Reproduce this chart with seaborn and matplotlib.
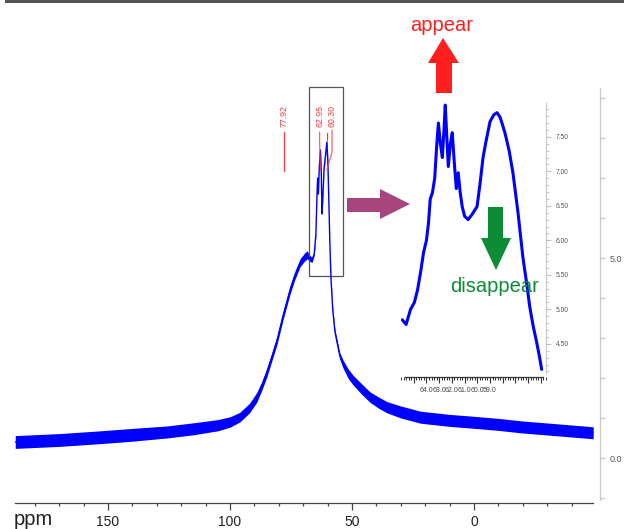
import numpy as np
import pandas as pd
import matplotlib
matplotlib.use("Agg")
import matplotlib.pyplot as plt
import seaborn as sns
from matplotlib.patches import Polygon, Rectangle
from matplotlib.ticker import FixedLocator, FuncFormatter, MultipleLocator

# ---------------- spectrum data ----------------
# full 13C spectrum: chemical shift (ppm), intensity and noise half-width
main_ppm = [188, 170, 153, 140, 126, 115, 105, 100, 96, 92, 89, 87, 85, 83,
            80.7, 78.3, 76.5, 75.4, 73.5, 71.3, 69.5, 68.4, 67.5, 66.4, 65.5,
            64.8, 64.4, 64.1, 63.8, 63.4, 62.95, 62.6, 62.3, 61.9, 61.5, 61.0,
            60.3, 59.9, 59.5, 59.1, 58.6, 57.9, 57.0, 55.0, 53.7, 51.5, 49.6,
            46.0, 42.6, 39.0, 35.7, 30.0, 22.0, 10.0, 1.6, -10, -19, -35, -48.8]
main_int = [0.40, 0.45, 0.52, 0.58, 0.65, 0.73, 0.82, 0.90, 1.02, 1.25, 1.52,
            1.80, 2.12, 2.50, 2.95, 3.55, 3.95, 4.20, 4.55, 4.88, 5.02, 5.08,
            5.00, 4.95, 5.10, 5.60, 6.50, 7.00, 6.60, 7.30, 7.70, 7.10, 6.10,
            6.60, 7.20, 7.50, 7.90, 7.40, 6.40, 5.40, 4.45, 3.70, 3.15, 2.55,
            2.35, 2.10, 1.95, 1.72, 1.52, 1.38, 1.27, 1.15, 1.02, 0.94, 0.90,
            0.84, 0.78, 0.70, 0.63]
main_noise = [0.16, 0.16, 0.16, 0.16, 0.15, 0.15, 0.14, 0.13, 0.12, 0.12, 0.12,
              0.11, 0.11, 0.10, 0.10, 0.10, 0.10, 0.10, 0.10, 0.10, 0.10, 0.10,
              0.08, 0.06, 0.04, 0.03, 0.03, 0.03, 0.03, 0.03, 0.03, 0.03, 0.03,
              0.03, 0.03, 0.03, 0.03, 0.03, 0.03, 0.03, 0.04, 0.05, 0.06, 0.08,
              0.10, 0.12, 0.12, 0.13, 0.13, 0.14, 0.14, 0.15, 0.15, 0.15, 0.15,
              0.15, 0.15, 0.15, 0.15]

# expanded region (inset)
zoom_ppm = [65.9, 65.6, 65.25, 64.95, 64.7, 64.45, 64.23, 64.0, 63.84, 63.7,
            63.53, 63.35, 63.2, 63.06, 62.9, 62.75, 62.62, 62.52, 62.4, 62.28,
            62.12, 61.97, 61.8, 61.65, 61.5, 61.35, 61.19, 61.0, 60.72, 60.4,
            60.02, 59.8, 59.55, 59.3, 59.0, 58.7, 58.45, 58.2, 57.83, 57.5,
            57.2, 56.8, 56.42, 56.1, 55.88, 55.6, 55.33, 55.1, 54.94]
zoom_int = [4.85, 4.78, 5.00, 5.10, 5.28, 5.55, 5.82, 6.00, 6.25, 6.60, 6.69,
            6.90, 7.35, 7.70, 7.40, 7.20, 7.60, 7.96, 7.50, 7.07, 7.40, 7.56,
            7.10, 6.75, 6.98, 6.70, 6.49, 6.35, 6.30, 6.38, 6.49, 6.80, 7.20,
            7.45, 7.72, 7.82, 7.85, 7.78, 7.56, 7.30, 6.98, 6.40, 5.76, 5.35,
            5.04, 4.75, 4.52, 4.30, 4.13]

# peak picking labels
peak_labels = ["77.92", "62.95", "60.30"]
peak_ppm = [77.92, 62.95, 60.30]

main_xticks = [150, 100, 50, 0]
zoom_xlabels = [64.0, 63.0, 62.0, 61.0, 60.0, 59.0]
zoom_yticks = [4.5, 5.0, 5.5, 6.0, 6.5, 7.0, 7.5]

# ---------------- figure ----------------
sns.set_theme(style="white")
plt.rcParams["font.family"] = ["Liberation Sans", "DejaVu Sans"]
NARROW = ["Liberation Sans Narrow", "Liberation Sans", "DejaVu Sans"]

W, H = 624, 529
fig = plt.figure(figsize=(W / 100, H / 100), dpi=100)
fig.patch.set_facecolor("white")


def fp(x, y):
    """pixel position -> figure fraction"""
    return (x / W, 1 - y / H)


BLUE = "#0000ff"

# main spectrum axes
ax = fig.add_axes([15 / W, 26 / H, 585 / W, 415 / H])
ax.set_facecolor("none")
main_df = pd.DataFrame({"ppm": main_ppm, "intensity": main_int})
lo = np.array(main_int) - np.array(main_noise)
hi = np.array(main_int) + np.array(main_noise)
ax.fill_between(main_ppm, lo, hi, color=BLUE, lw=0)
sns.lineplot(data=main_df, x="ppm", y="intensity", ax=ax, color=BLUE,
             lw=1.0, sort=False, estimator=None)
ax.set_xlim(188.1, -51.6)
ax.set_ylim(-1.125, 9.25)
ax.set_xlabel("")
ax.set_ylabel("")

for s in ("left", "top"):
    ax.spines[s].set_visible(False)
ax.spines["bottom"].set_bounds(188.1, -48.8)
ax.spines["bottom"].set_color("#444444")
ax.spines["bottom"].set_linewidth(0.9)
ax.spines["right"].set_bounds(-1.05, 9.25)
ax.spines["right"].set_color("#c8c8c8")
ax.spines["right"].set_linewidth(0.9)

ax.xaxis.set_major_locator(FixedLocator(main_xticks))
ax.xaxis.set_minor_locator(FixedLocator(np.arange(180, -45, -10)))
ax.xaxis.set_major_formatter(FuncFormatter(lambda v, p: f"{v:.0f}"))
ax.tick_params(axis="x", which="major", bottom=True, length=5, width=0.9,
               color="#444444", labelsize=10, labelcolor="#222222", pad=3.5)
ax.tick_params(axis="x", which="minor", bottom=True, length=2.5, width=0.9,
               color="#444444")
for t in ax.get_xticklabels():
    t.set_family(NARROW)

ax.yaxis.tick_right()
ax.yaxis.set_major_locator(FixedLocator(np.arange(-1, 10, 1)))
ax.yaxis.set_major_formatter(FuncFormatter(
    lambda v, p: f"{v:.1f}" if round(v) in (0, 5) else ""))
ax.tick_params(axis="y", which="major", right=True, left=False, length=3.6,
               width=0.9, color="#c8c8c8", labelsize=6.5, labelcolor="#555555",
               pad=3.5)

# peak labels with leader lines
RED = "#ff3b3b"
ax.text(77.92, 8.28, peak_labels[0], rotation=90, color=RED, fontsize=6.3,
        ha="center", va="bottom", clip_on=False)
ax.plot([77.92, 77.92], [8.15, 7.18], color=RED, lw=0.9, clip_on=False)
ax.text(63.3, 8.28, peak_labels[1], rotation=90, color=RED, fontsize=6.3,
        ha="center", va="bottom", clip_on=False)
ax.plot([63.3, 63.3, peak_ppm[1]], [8.15, 7.9, 7.2], color=RED, lw=0.9,
        clip_on=False, alpha=0.8)
ax.text(58.2, 8.28, peak_labels[2], rotation=90, color=RED, fontsize=6.3,
        ha="center", va="bottom", clip_on=False)
ax.plot([58.2, 58.2, peak_ppm[2]], [8.2, 7.65, 7.2], color=RED, lw=0.9,
        clip_on=False, alpha=0.8)
ax.plot([peak_ppm[2], peak_ppm[2]], [8.12, 7.95], color=RED, lw=0.9,
        clip_on=False)

# frame around the expanded region
ax.add_patch(Rectangle((67.6, 4.55), 53.7 - 67.6, 9.275 - 4.55, fill=False,
                       ec="#555555", lw=0.9, clip_on=False))

# inset axes with the expanded region
axi = fig.add_axes([401 / W, 152 / H, 145 / W, 274 / H])
axi.set_facecolor("none")
zoom_df = pd.DataFrame({"ppm": zoom_ppm, "intensity": zoom_int})
sns.lineplot(data=zoom_df, x="ppm", y="intensity", ax=axi, color=BLUE,
             lw=2.2, sort=False, estimator=None)
axi.set_xlim(66.0, 54.6)
axi.set_ylim(4.02, 7.99)
axi.set_xlabel("")
axi.set_ylabel("")
for s in ("left", "top"):
    axi.spines[s].set_visible(False)
axi.spines["bottom"].set_bounds(65.72, 54.86)
axi.spines["bottom"].set_color("#333333")
axi.spines["bottom"].set_linewidth(0.9)
axi.spines["right"].set_bounds(4.08, 7.99)
axi.spines["right"].set_color("#c8c8c8")
axi.spines["right"].set_linewidth(0.9)

axi.xaxis.set_major_locator(FixedLocator(np.arange(65, 54, -1.0)))
axi.xaxis.set_minor_locator(MultipleLocator(0.2))
axi.xaxis.set_major_formatter(FuncFormatter(
    lambda v, p: f"{v:.1f}" if 58.5 < v < 64.5 else ""))
axi.tick_params(axis="x", which="major", bottom=True, length=4.5, width=0.8,
                color="#333333", labelsize=5.0, labelcolor="#444444", pad=2.5)
axi.tick_params(axis="x", which="minor", bottom=True, length=2.5, width=0.7,
                color="#333333")
for t in axi.get_xticklabels():
    t.set_family(NARROW)
axi.yaxis.tick_right()
axi.yaxis.set_major_locator(FixedLocator(zoom_yticks))
axi.yaxis.set_minor_locator(MultipleLocator(0.1))
axi.yaxis.set_major_formatter(FuncFormatter(lambda v, p: f"{v:.2f}"))
axi.tick_params(axis="y", which="major", right=True, left=False, length=3.6,
                width=0.8, color="#c0c0c0", labelsize=4.8, labelcolor="#555555",
                pad=3.5)
axi.tick_params(axis="y", which="minor", right=True, left=False, length=2,
                width=0.7, color="#c8c8c8")

# arrows
arrows = {
    "#a8457e": [(347, 198), (380, 198), (380, 189), (410, 204), (380, 219),
                (380, 212), (347, 212)],
    "#ff1f1f": [(436, 93), (436, 63), (428, 63), (443, 38), (459, 63),
                (452, 63), (452, 93)],
    "#0c8c34": [(488, 207), (503, 207), (503, 238), (511, 238), (496, 270),
                (481, 238), (488, 238)],
}
for col, pts in arrows.items():
    fig.add_artist(Polygon([fp(*p) for p in pts], closed=True,
                           transform=fig.transFigure, fc=col, ec="none"))

fig.text(*fp(442, 31), "appear", color="#ff1f1f", fontsize=14.5,
         ha="center", va="baseline")
fig.text(*fp(450, 292.5), "disappear", color="#0c8c34", fontsize=14.5,
         ha="left", va="baseline")
fig.text(*fp(14, 525), "ppm", color="#222222", fontsize=14.5,
         ha="left", va="baseline")

# dark rule along the top edge
fig.add_artist(Rectangle(fp(5, 3), 1 - 5 / W, 3 / H, transform=fig.transFigure,
                         fc="#555555", ec="none"))

fig.savefig("out.png", dpi=100)
